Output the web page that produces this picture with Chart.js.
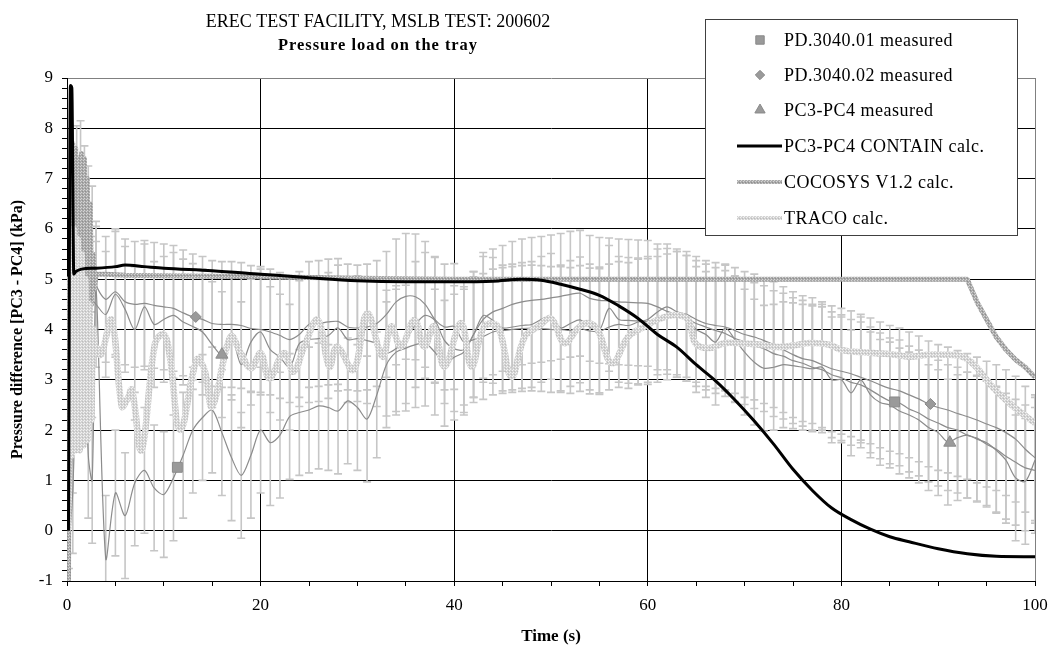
<!DOCTYPE html>
<html><head><meta charset="utf-8">
<script src="https://cdn.jsdelivr.net/npm/chart.js@4.4.0/dist/chart.umd.min.js"></script>
<style>html,body{margin:0;padding:0;background:#fff}#wrap{position:relative;width:1050px;height:653px}</style>
</head><body><div id="wrap"><canvas id="c" width="1050" height="653"></canvas></div>
<script>
// ---------------- DATA ----------------
const titleMain = 'EREC TEST FACILITY, MSLB TEST: 200602';
const titleSub = 'Pressure load on the tray';
const xTitle = 'Time (s)';
const yTitle = 'Pressure difference [PC3 - PC4] (kPa)';

// measured series (time in s, pressure difference in kPa)
const measTime = [0.2,0.6,1.0,1.4,1.8,2.2,2.6,3.0,
 4,5,6,7,8,9,10,11,12,13,14,15,16,17,18,19,20,21,22,23,24,25,26,27,28,29,30,31,32,33,
 34,35,36,37,38,39,40,41,42,43,44,45,46,47,48,49,50,51,52,53,54,55,56,57,58,59,60,61,62,63,
 64,65,66,67,68,69,70,71,72,73,74,75,76,77,78,79,80,81,82,83,84,85,86,87,88,89,90,91,92,93,
 94,95,96,97,98,99,100];
const pd01 = [-0.3,0.8,3.5,5.8,4.2,1.5,1.0,4.8,
 -0.55,0.75,0.3,0.95,1.2,0.85,0.72,1.05,1.5,2.0,
 2.25,2.4,1.95,1.45,1.1,1.5,2.0,1.75,1.9,2.27,
 2.35,2.4,2.48,2.45,2.38,2.58,2.45,2.22,2.7,3.3,
 3.55,3.63,3.7,3.73,3.55,3.33,3.45,3.55,3.9,4.2,
 4.35,4.42,4.5,4.55,4.58,4.6,4.63,4.66,4.7,4.72,
 4.62,4.58,4.57,4.55,4.54,4.53,4.52,4.45,4.36,4.3,
 4.22,4.12,4.05,3.98,3.92,3.82,3.76,3.68,3.62,3.52,
 3.47,3.38,3.33,3.25,3.2,3.1,3.04,2.95,2.9,2.8,
 2.68,2.58,2.54,2.42,2.34,2.22,2.14,2.05,2.0,1.9,
 1.84,1.72,1.62,1.48,1.36,1.25,1.2];
const pd02 = [0.5,3.0,6.8,6.9,6.4,6.0,5.6,4.9,
 4.6,4.75,4.55,4.5,4.52,4.48,4.45,4.42,4.33,4.25,
 4.2,4.12,4.1,4.1,4.08,4.02,4.0,3.95,3.88,3.8,
 3.9,4.1,4.12,4.15,4.16,4.05,4.03,4.05,4.12,4.3,
 4.55,4.66,4.65,4.5,4.2,4.05,4.06,3.75,3.8,3.86,
 3.95,3.98,4.0,4.02,4.03,4.02,4.0,4.0,3.98,4.02,
 3.97,3.96,4.05,4.1,4.08,4.15,4.2,4.35,4.45,4.35,
 4.3,4.2,4.12,4.08,4.05,3.98,3.9,3.85,3.78,3.7,
 3.6,3.5,3.42,3.38,3.3,3.22,3.17,3.12,3.05,2.98,
 2.9,2.83,2.78,2.7,2.62,2.52,2.45,2.4,2.33,2.27,
 2.2,2.12,2.05,1.95,1.82,1.62,1.45];
const pc34 = [0.0,2.0,5.5,6.2,5.2,5.0,4.6,4.5,
 4.3,4.7,4.4,4.0,4.45,4.1,4.2,4.28,4.15,4.06,
 3.95,3.7,3.5,3.85,3.3,3.75,3.95,3.6,3.45,3.25,
 3.72,3.8,3.82,3.88,4.03,3.8,3.82,3.78,3.72,3.53,
 3.62,3.78,4.1,4.28,4.18,3.78,3.62,3.6,3.9,4.28,
 4.18,4.03,4.05,4.08,4.1,4.2,4.26,4.03,4.12,4.19,
 4.05,3.99,4.42,4.2,4.18,4.17,4.16,4.2,4.25,4.3,
 4.22,4.0,3.9,3.75,4.03,3.8,3.55,3.35,3.23,3.25,
 3.3,3.28,3.25,3.22,3.25,3.0,3.0,2.74,3.0,2.7,
 2.55,2.5,2.38,2.3,2.2,2.05,1.95,1.76,1.85,1.9,
 1.82,1.75,1.6,1.4,1.05,0.98,1.4];
const measErr = 1.25; // +/- measurement uncertainty (kPa)

// marker positions shown on the measured curves
const pd01MarkX = [11.4, 85.5], pd01MarkY = [1.26, 2.56];
const pd02MarkX = [13.3, 89.2], pd02MarkY = [4.25, 2.52];
const pc34MarkX = [16.0, 91.2], pc34MarkY = [3.5, 1.75];

// CONTAIN calculation
const containT = [0.15,0.35,0.5,0.7,0.9,1.5,3,5,6,8,10,15,20,25,30,35,40,44,47,49,51,53,55,57,59,61,63,65,67,69,71,73,75,77,79,81,83,85,87,90,93,96,100];
const containV = [0.0,8.85,8.8,5.1,5.15,5.2,5.22,5.25,5.28,5.25,5.22,5.17,5.1,5.03,4.97,4.95,4.95,4.96,5.0,4.98,4.9,4.8,4.68,4.47,4.22,3.9,3.65,3.3,2.98,2.6,2.18,1.72,1.22,0.8,0.45,0.22,0.03,-0.12,-0.22,-0.36,-0.46,-0.51,-0.52];

// COCOSYS V1.2 calculation
const cocosysT = [0,0.15,0.3,0.45,0.6,0.75,0.9,1.05,1.2,1.35,1.5,1.65,1.8,1.95,2.1,2.25,2.4,2.55,2.7,2.85,3.0,4,6,10,20,30,40,50,60,70,80,90,93,94,95,96,97,98,99,100];
const cocosysV = [0,-1,4.5,1.5,7.7,2.0,7.6,1.6,7.4,4.4,7.5,4.4,7.4,4.5,7.0,4.4,6.5,4.5,5.5,4.8,5.1,5.1,5.08,5.07,5.05,5.02,5.0,5.0,5.0,5.0,5.0,5.0,5.0,4.55,4.2,3.85,3.6,3.4,3.25,3.05];

// TRACO calculation
const tracoT = [0.1,0.3,0.5,0.7,0.9,1.1,1.3,1.5,1.7,1.9,2.1,2.3,2.5,2.7,2.9,3.5,4.6,5.66,6.2,6.7,7.7,9.1,10,10.6,11.7,13.4,14.2,15,16.9,17.9,19,20,20.9,22.4,23.4,24.5,25.9,27.1,27.9,29.6,31,32.6,33.5,34.5,35.9,36.9,37.9,39,40.7,41.8,43.1,44.5,45.9,47.3,48.7,50,51.4,52.8,53.8,54.8,56.3,58,59.7,61.1,62.8,64.2,64.9,66.3,68,70,71.5,73.5,75,76.7,78.7,80.1,82,83.6,85.5,87,89,90.5,92.5,93.9,95.6,97.4,99.1,100];
const tracoV = [0,5.0,1.5,6.0,1.6,5.8,1.6,5.5,1.7,5.0,1.8,4.5,2.2,4.0,3.7,3.5,4.19,2.47,2.6,2.8,1.6,3.73,3.9,3.5,2.0,3.4,3.2,2.47,3.86,3.55,3.23,3.53,3.03,3.53,3.16,3.66,4.19,3.26,3.66,3.2,4.32,3.46,4.06,3.66,4.19,3.66,4.06,3.26,4.13,3.26,4.06,4.06,3.06,3.86,4.06,4.22,3.73,4.03,4.13,4.0,3.33,3.86,4.06,4.2,4.29,4.19,3.73,3.63,3.73,3.72,3.7,3.65,3.68,3.73,3.7,3.59,3.55,3.53,3.5,3.46,3.5,3.5,3.46,3.26,2.86,2.53,2.27,2.14];

// axis ranges / ticks
const xMin = 0, xMax = 100, xMinorStep = 5, xMajorStep = 20;
const yMin = -1, yMax = 9, yMinorStep = 0.2;

// ---------------- STYLE ----------------
const SERIF = "'Liberation Serif','Times New Roman',serif";
const canvas = document.getElementById('c');
const ctx0 = canvas.getContext('2d');
function makePattern(base, dot, dot2) {
  const p = document.createElement('canvas'); p.width = 3; p.height = 3;
  const g = p.getContext('2d');
  g.fillStyle = base; g.fillRect(0,0,3,3);
  g.fillStyle = dot; g.fillRect(0,0,1,1); g.fillRect(2,1,1,1);
  g.fillStyle = dot2; g.fillRect(1,2,1,1);
  return ctx0.createPattern(p, 'repeat');
}
const cocoPat = makePattern('#a9a9a9', '#d4d4d4', '#8f8f8f');
const tracoPat = makePattern('#d3d3d3', '#f2f2f2', '#bdbdbd');

const zip = (xs, ys) => xs.map((x, i) => ({x, y: ys[i]}));
const measColor = '#8c8c8c';

function measLine(vals) {
  return {data: zip(measTime, vals), borderColor: measColor, borderWidth: 1.2, pointRadius: 0,
    tension: 0.3, fill: false, order: 6};
}
function markerSet(label, xs, ys, style, r) {
  return {label, data: zip(xs, ys), showLine: false, pointStyle: style, pointRadius: r,
    pointBackgroundColor: '#9a9a9a', pointBorderColor: '#8a8a8a', pointBorderWidth: 1, order: 1};
}

const datasets = [
  measLine(pd01), measLine(pd02), measLine(pc34),
  markerSet('PD.3040.01 measured', pd01MarkX, pd01MarkY, 'rect', 7),
  markerSet('PD.3040.02 measured', pd02MarkX, pd02MarkY, 'rectRot', 5.5),
  markerSet('PC3-PC4 measured', pc34MarkX, pc34MarkY, 'triangle', 7),
  {label: 'PC3-PC4 CONTAIN calc.', data: zip(containT, containV), borderColor: '#000', borderWidth: 3,
    pointRadius: 0, cubicInterpolationMode: 'monotone', order: 2, legendWidth: 3},
  {label: 'COCOSYS V1.2 calc.', data: zip(cocosysT, cocosysV), borderColor: cocoPat, borderWidth: 5,
    pointRadius: 0, tension: 0, order: 4, legendWidth: 4},
  {label: 'TRACO calc.', data: zip(tracoT, tracoV), borderColor: tracoPat, borderWidth: 6.5,
    pointRadius: 0, tension: 0.4, order: 3, legendWidth: 4}
];

const isInt = v => Math.abs(v - Math.round(v)) < 1e-6;

const errorBars = {
  id: 'errorBars',
  beforeDatasetsDraw(chart) {
    const {ctx, chartArea: a, scales: {x, y}} = chart;
    ctx.save();
    ctx.beginPath(); ctx.rect(a.left, a.top, a.right - a.left, a.bottom - a.top); ctx.clip();
    ctx.strokeStyle = '#c6c6c6'; ctx.lineWidth = 1.6;
    [pd01, pd02, pc34].forEach(series => {
      series.forEach((v, i) => {
        const px = x.getPixelForValue(measTime[i]);
        const top = y.getPixelForValue(v + measErr);
        const bot = y.getPixelForValue(v - measErr);
        ctx.beginPath();
        ctx.moveTo(px, top); ctx.lineTo(px, bot);
        ctx.moveTo(px - 4, top); ctx.lineTo(px + 4, top);
        ctx.moveTo(px - 4, bot); ctx.lineTo(px + 4, bot);
        ctx.stroke();
      });
    });
    ctx.restore();
  }
};

const overlay = {
  id: 'overlay',
  afterDraw(chart) {
    const ctx = chart.ctx;
    ctx.save();
    // titles
    ctx.fillStyle = '#000'; ctx.textAlign = 'center'; ctx.textBaseline = 'alphabetic';
    ctx.font = '18px ' + SERIF;
    ctx.fillText(titleMain, 378, 27, 362);
    ctx.font = 'bold 17px ' + SERIF;
    try { ctx.letterSpacing = '1px'; } catch (e) {}
    ctx.fillText(titleSub, 378, 50, 200);
    // legend box
    const bx = 705.5, by = 19.5, bw = 312, bh = 216;
    ctx.fillStyle = '#fff'; ctx.fillRect(bx, by, bw, bh);
    ctx.strokeStyle = '#404040'; ctx.lineWidth = 1; ctx.strokeRect(bx, by, bw, bh);
    const rows = [40, 75, 110, 146, 182, 218];
    const items = chart.data.datasets.filter(d => d.label);
    ctx.font = '18px ' + SERIF; ctx.textAlign = 'left'; ctx.textBaseline = 'middle';
    try { ctx.letterSpacing = '0.5px'; } catch (e) {}
    items.forEach((d, i) => {
      const yy = rows[i];
      if (d.showLine === false) {
        ctx.fillStyle = d.pointBackgroundColor; ctx.strokeStyle = d.pointBorderColor; ctx.lineWidth = 1;
        Chart.helpers.drawPoint(ctx, {pointStyle: d.pointStyle, radius: d.pointRadius * 0.85, rotation: 0, borderWidth: 1}, 760, yy);
      } else {
        ctx.strokeStyle = d.borderColor; ctx.lineWidth = d.legendWidth;
        ctx.beginPath(); ctx.moveTo(737, yy); ctx.lineTo(782, yy); ctx.stroke();
      }
      ctx.fillStyle = '#000';
      ctx.fillText(d.label, 784, yy + 1);
    });
    try { ctx.letterSpacing = '0px'; } catch (e) {}
    ctx.restore();
  }
};

new Chart(canvas, {
  type: 'line',
  data: {datasets},
  plugins: [errorBars, overlay],
  options: {
    responsive: false, animation: false, devicePixelRatio: 1,
    layout: {padding: {top: 78, right: 15, left: 0, bottom: 0}},
    plugins: {legend: {display: false}, tooltip: {enabled: false}, title: {display: false}},
    elements: {line: {borderCapStyle: 'butt', borderJoinStyle: 'round'}},
    scales: {
      x: {
        type: 'linear', min: xMin, max: xMax,
        ticks: {stepSize: xMinorStep, autoSkip: false, maxRotation: 0, padding: 9, color: '#000',
          font: {family: SERIF, size: 17},
          callback: v => (Math.round(v) % xMajorStep === 0 ? String(Math.round(v)) : '')},
        grid: {
          color: c => { const v = c.tick ? c.tick.value : 0;
            if (Math.abs(v - xMax) < 1e-6) return '#808080';
            if (Math.round(v) % xMajorStep === 0) return '#000';
            return 'rgba(0,0,0,0)'; },
          tickColor: '#000', tickLength: 5, lineWidth: 1},
        border: {color: '#000', width: 1},
        title: {display: true, text: xTitle, color: '#000', font: {family: SERIF, size: 17, weight: 'bold'},
          padding: {top: 0, bottom: 6}},
        afterFit: s => { s.height = 72; s.paddingRight = 0; s.paddingLeft = 0; }
      },
      y: {
        type: 'linear', min: yMin, max: yMax,
        ticks: {stepSize: yMinorStep, autoSkip: false, padding: 9, color: '#000',
          font: {family: SERIF, size: 17},
          callback: v => (isInt(v) ? String(Math.round(v)) : '')},
        grid: {
          color: c => { const v = c.tick ? c.tick.value : 0;
            if (Math.abs(v - yMax) < 1e-6) return '#808080';
            if (isInt(v)) return '#000';
            return 'rgba(0,0,0,0)'; },
          tickColor: '#000', tickLength: 5, lineWidth: 1},
        border: {color: '#000', width: 1},
        title: {display: true, text: yTitle, color: '#000', font: {family: SERIF, size: 16, weight: 'bold'},
          padding: {top: 8, bottom: 0}},
        afterFit: s => { s.width = 67; s.paddingTop = 0; s.paddingBottom = 0; }
      }
    }
  }
});
</script>
</body></html>
